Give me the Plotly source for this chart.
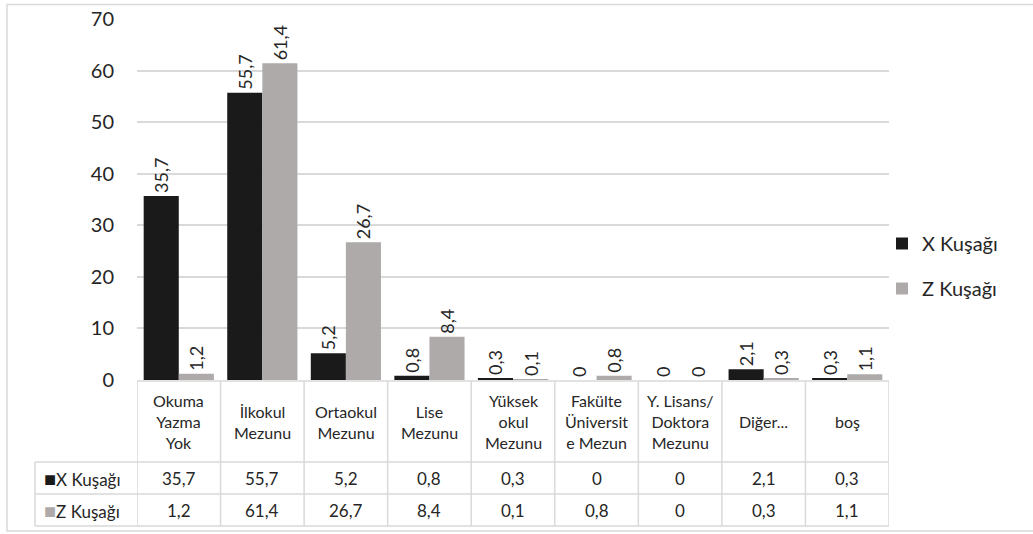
import plotly.graph_objects as go

# education level categories (x axis) and table header labels
categories = ["Okuma Yazma Yok", "İlkokul Mezunu", "Ortaokul Mezunu", "Lise Mezunu",
              "Yüksek okul Mezunu", "Fakülte Üniversite Mezun", "Y. Lisans/ Doktora Mezunu",
              "Diğer...", "boş"]
header_labels = ["Okuma<br>Yazma<br>Yok", "İlkokul<br>Mezunu", "Ortaokul<br>Mezunu",
                 "Lise<br>Mezunu", "Yüksek<br>okul<br>Mezunu", "Fakülte<br>Üniversit<br>e Mezun",
                 "Y. Lisans/<br>Doktora<br>Mezunu", "Diğer...", "boş"]

series_names = ["X Kuşağı", "Z Kuşağı"]
x_kusagi = [35.7, 55.7, 5.2, 0.8, 0.3, 0, 0, 2.1, 0.3]
z_kusagi = [1.2, 61.4, 26.7, 8.4, 0.1, 0.8, 0, 0.3, 1.1]
y_ticks = [0, 10, 20, 30, 40, 50, 60, 70]

colors = ["#1a1a1a", "#aeaaaa"]
FONT = "Lato, 'Open Sans', sans-serif"
TXT = "#262626"
GRID = "#d9d9d9"
W, H = 1033, 534


def fmt(v):
    return f"{v:g}".replace(".", ",")


def px(x):
    return x / W


def py(y):
    return 1 - y / H


fig = go.Figure()
for name, vals, col in zip(series_names, [x_kusagi, z_kusagi], colors):
    fig.add_trace(go.Bar(
        x=categories, y=vals, name=name, legendgroup=name,
        marker=dict(color=col, line=dict(width=0)),
        text=[fmt(v) for v in vals], textposition="outside", textangle=-90,
        textfont=dict(size=18, color=TXT, family=FONT),
        constraintext="none", cliponaxis=False,
    ))

# data table under the plot, aligned with the category axis
n = len(categories)
head_top, head_bot, row_h = 381, 462, 32
label_left = 35
shapes = []
line = dict(color=GRID, width=1.5)
# horizontal lines
shapes.append(dict(type="line", xref="x", yref="paper", x0=-0.5, x1=n - 0.5,
                   y0=py(head_top), y1=py(head_top), line=line))
for r in range(3):
    yy = py(head_bot + r * row_h)
    shapes.append(dict(type="line", xref="paper", yref="paper", x0=px(label_left), x1=px(889),
                       y0=yy, y1=yy, line=line))
# vertical lines
for i in range(n + 1):
    shapes.append(dict(type="line", xref="x", yref="paper", x0=i - 0.5, x1=i - 0.5,
                       y0=py(head_top), y1=py(head_bot + 2 * row_h), line=line))
shapes.append(dict(type="line", xref="paper", yref="paper", x0=px(label_left), x1=px(label_left),
                   y0=py(head_bot), y1=py(head_bot + 2 * row_h), line=line))
# outer chart border
shapes.append(dict(type="rect", xref="paper", yref="paper",
                   x0=px(7), x1=px(1040), y0=py(531), y1=py(4.5),
                   line=dict(color=GRID, width=1.5), fillcolor="rgba(0,0,0,0)", layer="below"))

annotations = []
for cat, lab in zip(categories, header_labels):
    annotations.append(dict(x=cat, xref="x", y=py((head_top + head_bot) / 2), yref="paper",
                            text=lab, showarrow=False, align="center", yanchor="middle",
                            font=dict(size=16, color=TXT, family=FONT)))
for r, (name, vals, col) in enumerate(zip(series_names, [x_kusagi, z_kusagi], colors)):
    yc = py(head_bot + r * row_h + row_h / 2)
    annotations.append(dict(x=px(label_left + 7), xref="paper", y=yc, yref="paper",
                            xanchor="left", yanchor="middle", showarrow=False,
                            text=f"<span style='color:{col};font-size:20px'>■</span>{name}",
                            font=dict(size=17, color=TXT, family=FONT)))
    for cat, v in zip(categories, vals):
        annotations.append(dict(x=cat, xref="x", y=yc, yref="paper", text=fmt(v),
                                showarrow=False, yanchor="middle",
                                font=dict(size=17, color=TXT, family=FONT)))

fig.update_layout(
    width=W, height=H,
    margin=dict(l=0, r=0, t=0, b=0, autoexpand=False),
    paper_bgcolor="white", plot_bgcolor="white",
    font=dict(family=FONT, color=TXT),
    barmode="group", bargap=0.16, bargroupgap=0,
    xaxis=dict(domain=[px(137), px(889)], showticklabels=False, showgrid=False,
               zeroline=False, showline=False, ticks="", range=[-0.5, n - 0.5]),
    yaxis=dict(domain=[py(380), py(19)], range=[0, 70], tickvals=y_ticks,
               showgrid=True, gridcolor=GRID, gridwidth=1.5, zeroline=False,
               showline=False, ticks="", ticklabelstandoff=22,
               tickfont=dict(size=20, color=TXT, family=FONT)),
    legend=dict(x=px(882), y=py(266), xanchor="left", yanchor="middle",
                font=dict(size=20, color=TXT, family=FONT),
                tracegroupgap=16, traceorder="grouped", bgcolor="rgba(0,0,0,0)"),
    shapes=shapes,
    annotations=annotations,
)

# drop the default page margin so figure pixels line up with the window
fig.write_html("out.html", config={"displayModeBar": False},
               post_script="document.body.style.margin='0';")
